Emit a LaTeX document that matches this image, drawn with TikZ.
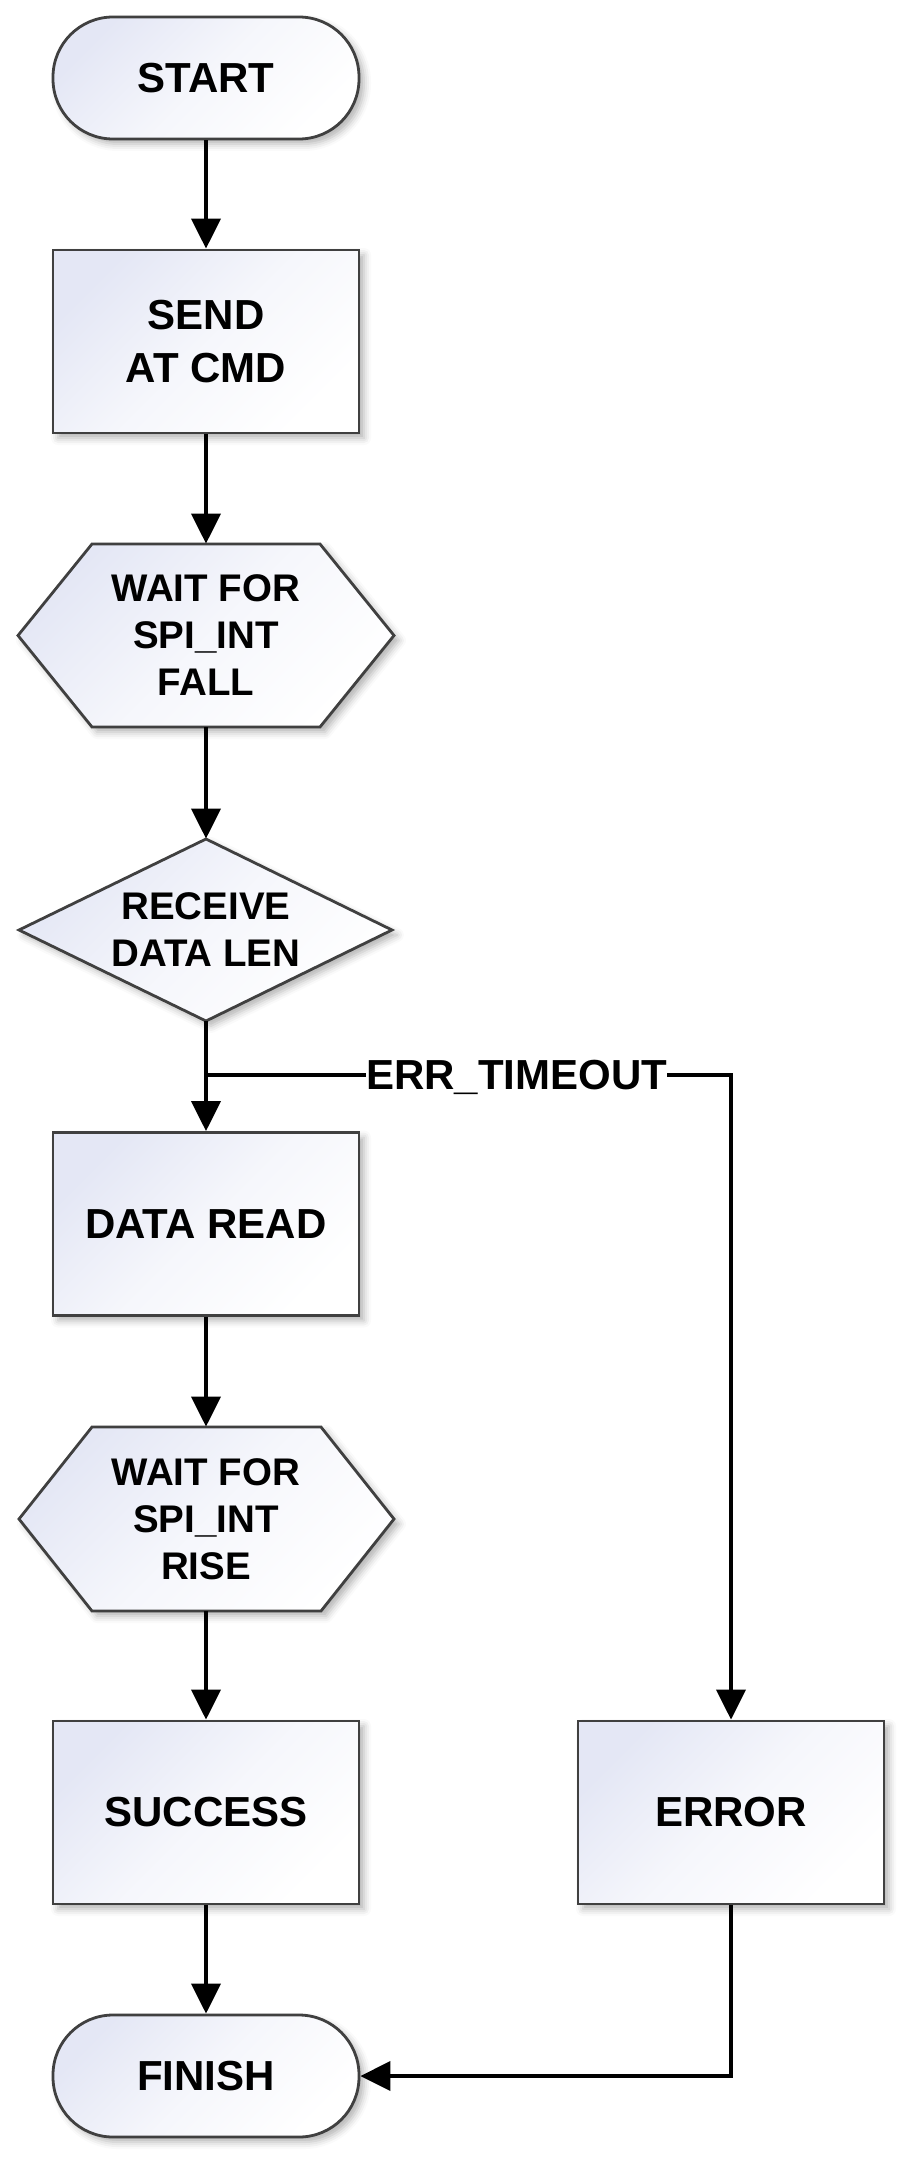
\documentclass[tikz,border=0pt]{standalone}
\usepackage{fontspec}
\setmainfont{Liberation Sans}
\usetikzlibrary{arrows.meta,shadows.blur}
\definecolor{lav}{HTML}{E4E7F5}
\definecolor{edgegray}{HTML}{404040}
\tikzset{
 shapefill/.style={draw=edgegray, line width=1.4pt, top color=lav, bottom color=white, middle color=lav!35!white, shading angle=45,
   blur shadow={shadow xshift=2.5pt, shadow yshift=-2.5pt, shadow blur radius=3.5pt, shadow opacity=30}},
 proc/.style={shapefill, rectangle, minimum width=153pt, minimum height=91.5pt},
 term/.style={shapefill, rectangle, rounded corners=30pt, minimum width=153pt, minimum height=61pt},
 ghost/.style={rectangle, inner sep=0pt},
 lbl/.style={font=\fontsize{21pt}{23.5pt}\selectfont\bfseries, align=center, text=black},
 slbl/.style={font=\fontsize{19.25pt}{23.5pt}\selectfont\bfseries, align=center, text=black},
 conn/.style={line width=2pt, draw=black, -{Triangle[length=15pt,width=14.5pt]}},
}
\begin{document}
\begin{tikzpicture}[x=0.5pt,y=-0.5pt]
\useasboundingbox (0,0) rectangle (914,2166);
% nodes
\node[term,lbl] (start) at (206,78) {START};
\node[proc,lbl] (send) at (206,341.5) {SEND\\[3pt]AT CMD};
\path[shapefill] (18,635.5) -- (92,544) -- (320,544) -- (394,635.5) -- (320,727) -- (92,727) -- cycle;
\node[ghost,slbl,minimum width=188pt,minimum height=91.5pt] (wait1) at (206,635.5) {WAIT FOR\\SPI\_INT\\FALL};
\path[shapefill] (19,930) -- (206,839) -- (392,930) -- (206,1021) -- cycle;
\node[ghost,slbl,minimum width=186.5pt,minimum height=91pt] (recv) at (206,930) {RECEIVE\\DATA LEN};
\node[proc,lbl] (read) at (206,1224) {DATA READ};
\path[shapefill] (19,1519) -- (92,1427) -- (321,1427) -- (394,1519) -- (321,1611) -- (92,1611) -- cycle;
\node[ghost,slbl,minimum width=187.5pt,minimum height=92pt] (wait2) at (206,1519) {WAIT FOR\\SPI\_INT\\RISE};
\node[proc,lbl] (succ) at (206,1812.5) {SUCCESS};
\node[proc,lbl] (err) at (731,1812.5) {ERROR};
\node[term,lbl] (fin) at (206,2076) {FINISH};
\coordinate (split) at (206,1075);
% connectors
\draw[conn] (start.south) -- (send.north);
\draw[conn] (send.south) -- (wait1.north);
\draw[conn] (wait1.south) -- (recv.north);
\draw[conn] (recv.south) -- (read.north);
\draw[conn] (split) -| node[pos=0.296, fill=white, inner sep=0pt, text depth=0pt, lbl] (errlbl) {ERR\_TIMEOUT} (err.north);
\draw[conn] (read.south) -- (wait2.north);
\draw[conn] (wait2.south) -- (succ.north);
\draw[conn] (succ.south) -- (fin.north);
\draw[conn] (err.south) |- (fin.east);
\end{tikzpicture}
\end{document}
